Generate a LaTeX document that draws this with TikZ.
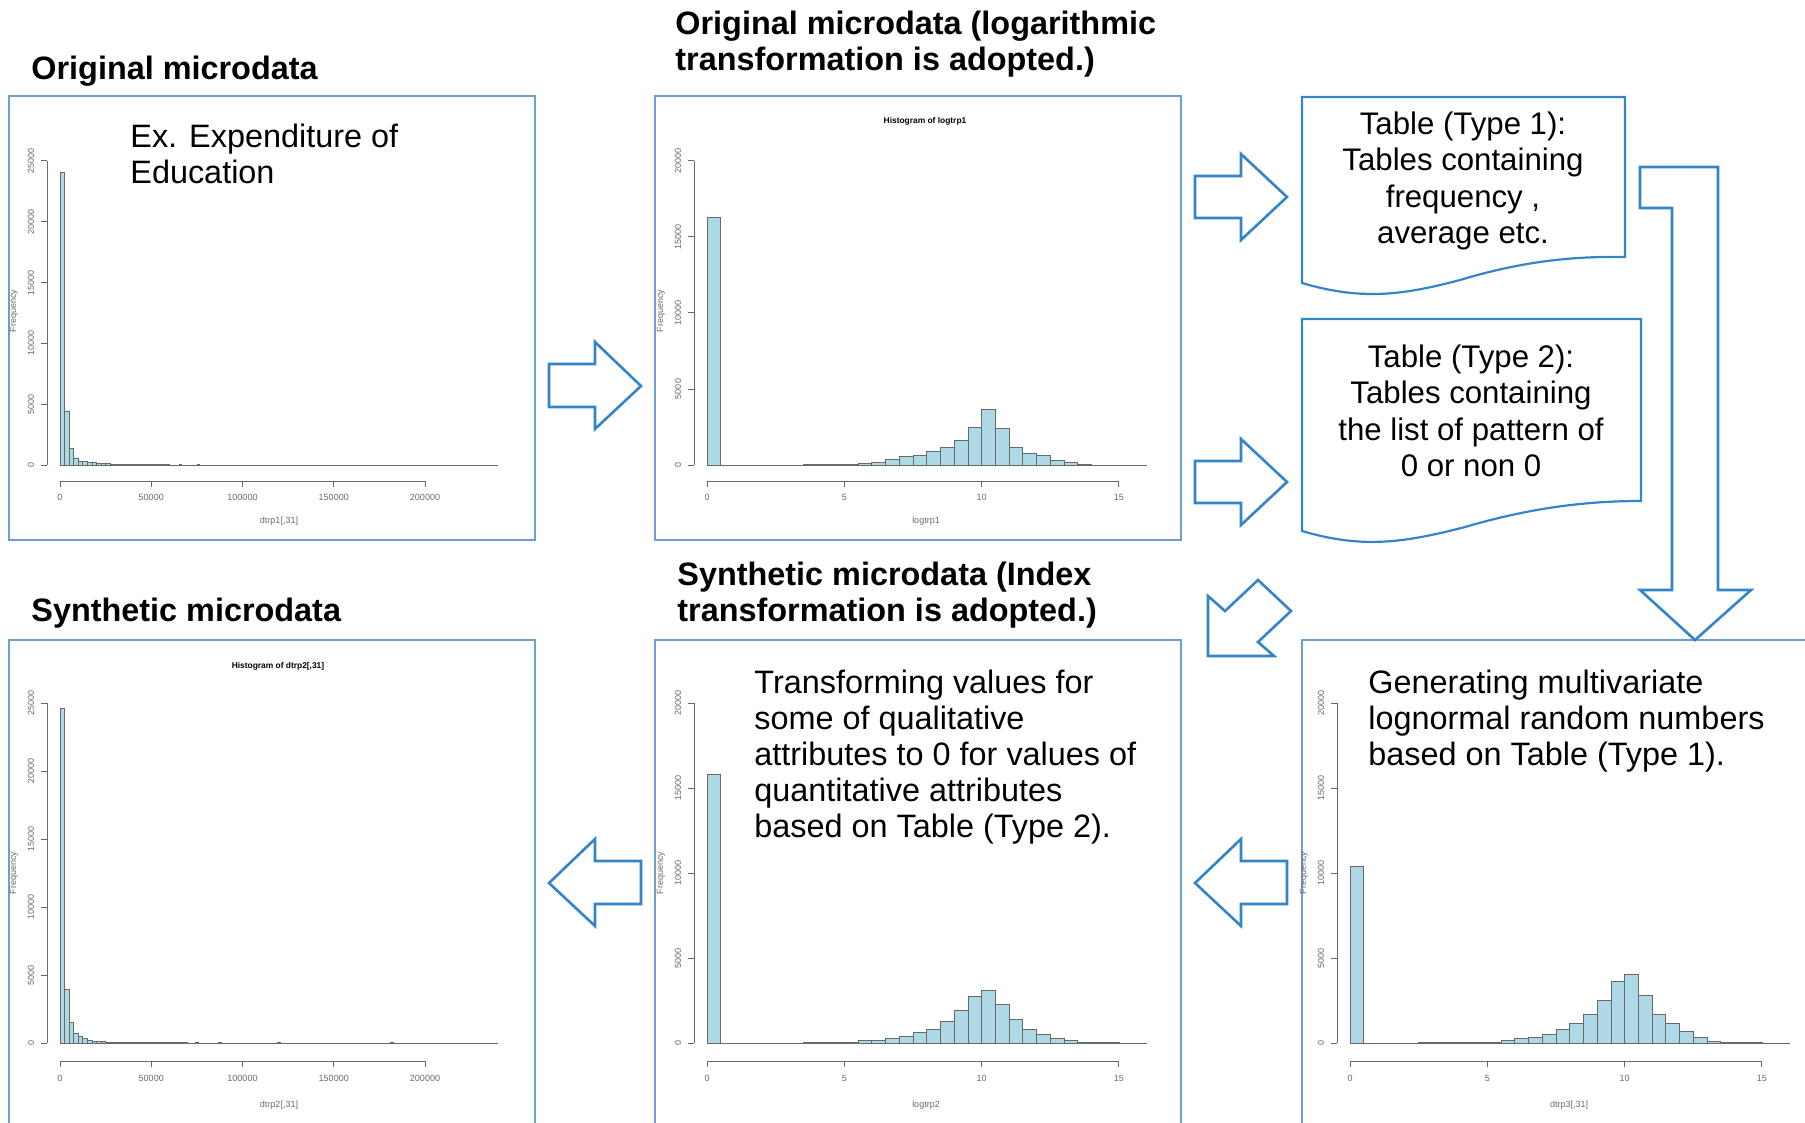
\documentclass[tikz,border=0pt]{standalone}
\usepackage{fontspec}
\setmainfont{Liberation Sans}
\usepackage{tikz}
\usetikzlibrary{positioning}
\definecolor{frameblue}{RGB}{112,156,212}
\definecolor{arrowblue}{RGB}{52,132,202}
\definecolor{barblue}{RGB}{173,216,230}
\definecolor{axisgray}{RGB}{105,105,105}

\begin{document}
\begin{tikzpicture}[x=0.5pt,y=-0.5pt,
  panel/.style={draw=frameblue,line width=1.2pt},
  blockarrow/.style={draw=arrowblue,line width=1.3pt,line join=miter,fill=white},
  doc/.style={draw=arrowblue,line width=1.1pt},
  heading/.style={anchor=north west,inner sep=0pt,align=left,font=\fontsize{16.2}{18}\selectfont\bfseries},
  note/.style={anchor=north west,inner sep=0pt,align=left,font=\fontsize{16.2}{18}\selectfont},
  tabtext/.style={anchor=north,inner sep=0pt,align=center,font=\fontsize{15.6}{18.3}\selectfont},
  bar/.style={fill=barblue,draw=axisgray,line width=0.35pt},
  axisline/.style={draw=axisgray,line width=0.5pt},
  ticklab/.style={text=axisgray,inner sep=0pt,font=\fontsize{4.5}{5}\selectfont},
  histtitle/.style={inner sep=0pt,font=\fontsize{4.2}{5}\selectfont\bfseries},
  ]
\useasboundingbox (0,0) rectangle (1805,1123);

% headings
\node[heading] (titleorig) at (31,56) {Original microdata};
\node[heading] (titlelog) at (675,11) {Original microdata (logarithmic\\transformation is adopted.)};
\node[heading] (titleidx) at (677,562) {Synthetic microdata (Index\\transformation is adopted.)};
\node[heading] (titlesyn) at (31,598) {Synthetic microdata};

% frames
\draw[panel] (9,96) rectangle (535,540);
\draw[panel] (655,96) rectangle (1181,540);
\draw[panel] (9,640) rectangle (535,1140);
\draw[panel] (655,640) rectangle (1181,1140);
\draw[panel] (1302,640) rectangle (1840,1140);

% original data
\begin{scope}[shift={(60,465)}]
\foreach \c [count=\i from 0] in {241,44.3,13.7,5.5,2.7,2.7,2.5,1.8,1.5,1.2,1.0,0.8,0.6,0.5}
  \draw[bar] (\i*4.5625,0) rectangle ++(4.5625,-\c*1.216);
\draw[axisline] (0,0) -- (438,0);
\draw[axisline,line width=1pt] (63.9,0) -- (110,0) (119,0) -- (122,0) (137,0) -- (140,0);
\draw[axisline] (-13,0) -- (-13,-304);
\foreach \k/\v in {0/0,1/5000,2/10000,3/15000,4/20000,5/25000}{
  \draw[axisline] (-13,-\k*60.8) -- (-19,-\k*60.8);
  \node[ticklab,rotate=90] at (-29,-\k*60.8) {\v};}
\draw[axisline] (0,16) -- (365,16);
\foreach \k/\v in {0/0,1/50000,2/100000,3/150000,4/200000}{
  \draw[axisline] (\k*91.25,16) -- (\k*91.25,22);
  \node[ticklab] at (\k*91.25,32) {\v};}
\node[ticklab,rotate=90] (freqa) at (-46,-154) {Frequency};
\node[ticklab] (xlaba) at (219,56) {dtrp1[,31]};
\end{scope}
\node[note] (expnote) at (130,124) {Ex. Expenditure of\\Education};

% log data
\begin{scope}[shift={(707,465)}]
\draw[bar] (0,0) rectangle ++(13.73,-163*1.52);
\foreach \b/\c in {7/0.3,8/0.3,9/0.3,10/0.3,11/1.0,12/2.0,13/3.7,14/5.4,15/6.5,16/9.0,17/11.3,18/16.3,19/25,20/36.4,21/24,22/11.3,23/7.6,24/6.5,25/3.3,26/1.5,27/0.6}
  \draw[bar] (\b*13.73,0) rectangle ++(13.73,-\c*1.52);
\draw[axisline] (0,0) -- (439.5,0);
\draw[axisline] (-13,0) -- (-13,-304);
\foreach \k/\v in {0/0,1/5000,2/10000,3/15000,4/20000}{
  \draw[axisline] (-13,-\k*76) -- (-19,-\k*76);
  \node[ticklab,rotate=90] at (-29,-\k*76) {\v};}
\draw[axisline] (0,16) -- (412,16);
\foreach \k/\v in {0/0,1/5,2/10,3/15}{
  \draw[axisline] (\k*137.3,16) -- (\k*137.3,22);
  \node[ticklab] at (\k*137.3,32) {\v};}
\node[histtitle] (histb) at (218,-344) {Histogram of logtrp1};
\node[ticklab,rotate=90] (freqb) at (-46,-154) {Frequency};
\node[ticklab] (xlabb) at (219,56) {logtrp1};
\end{scope}

% synthetic data
\begin{scope}[shift={(60,1043)}]
\foreach \c [count=\i from 0] in {246,39.7,14.9,7.4,5.0,3.2,2.0,1.5,1.2,1.0,0.8,0.6,0.5,0.4}
  \draw[bar] (\i*4.5625,0) rectangle ++(4.5625,-\c*1.36);
\draw[axisline] (0,0) -- (438,0);
\draw[axisline,line width=1pt] (63.9,0) -- (128,0) (135,0) -- (139,0) (158,0) -- (162,0) (217,0) -- (221,0) (330,0) -- (334,0);
\draw[axisline] (-13,0) -- (-13,-340);
\foreach \k/\v in {0/0,1/5000,2/10000,3/15000,4/20000,5/25000}{
  \draw[axisline] (-13,-\k*68) -- (-19,-\k*68);
  \node[ticklab,rotate=90] at (-29,-\k*68) {\v};}
\draw[axisline] (0,18) -- (365,18);
\foreach \k/\v in {0/0,1/50000,2/100000,3/150000,4/200000}{
  \draw[axisline] (\k*91.25,18) -- (\k*91.25,24);
  \node[ticklab] at (\k*91.25,35) {\v};}
\node[histtitle] (histc) at (218,-377) {Histogram of dtrp2[,31]};
\node[ticklab,rotate=90] (freqc) at (-46,-170) {Frequency};
\node[ticklab] (xlabc) at (219,62) {dtrp2[,31]};
\end{scope}

% index data
\begin{scope}[shift={(707,1043)}]
\draw[bar] (0,0) rectangle ++(13.73,-158*1.7);
\foreach \b/\c in {7/0.3,8/0.3,9/0.3,10/0.3,11/1.4,12/1.4,13/3.0,14/4.0,15/6.0,16/8.3,17/12.9,18/19.4,19/27.2,20/30.8,21/22.8,22/13.9,23/8.3,24/5.0,25/2.6,26/1.4,27/0.3,28/0.3,29/0.3}
  \draw[bar] (\b*13.73,0) rectangle ++(13.73,-\c*1.7);
\draw[axisline] (0,0) -- (439.5,0);
\draw[axisline] (-13,0) -- (-13,-340);
\foreach \k/\v in {0/0,1/5000,2/10000,3/15000,4/20000}{
  \draw[axisline] (-13,-\k*85) -- (-19,-\k*85);
  \node[ticklab,rotate=90] at (-29,-\k*85) {\v};}
\draw[axisline] (0,18) -- (412,18);
\foreach \k/\v in {0/0,1/5,2/10,3/15}{
  \draw[axisline] (\k*137.3,18) -- (\k*137.3,24);
  \node[ticklab] at (\k*137.3,35) {\v};}
\node[ticklab,rotate=90] (freqd) at (-46,-170) {Frequency};
\node[ticklab] (xlabd) at (219,62) {logtrp2};
\end{scope}
\node[note] (transnote) at (754,670) {Transforming values for\\some of qualitative\\attributes to 0 for values of\\quantitative attributes\\based on Table (Type 2).};

% lognormal data
\begin{scope}[shift={(1350,1043)}]
\draw[bar] (0,0) rectangle ++(13.73,-104*1.7);
\foreach \b/\c in {5/0.3,6/0.3,7/0.3,8/0.3,9/0.3,10/0.3,11/1.5,12/2.8,13/3.6,14/5.3,15/8.3,16/11.7,17/17.1,18/25,19/36.3,20/40.6,21/28.2,22/17.1,23/11.7,24/7.0,25/3.2,26/1.1,27/0.3,28/0.3,29/0.3}
  \draw[bar] (\b*13.73,0) rectangle ++(13.73,-\c*1.7);
\draw[axisline] (0,0) -- (439.5,0);
\draw[axisline] (-13,0) -- (-13,-340);
\foreach \k/\v in {0/0,1/5000,2/10000,3/15000,4/20000}{
  \draw[axisline] (-13,-\k*85) -- (-19,-\k*85);
  \node[ticklab,rotate=90] at (-29,-\k*85) {\v};}
\draw[axisline] (0,18) -- (412,18);
\foreach \k/\v in {0/0,1/5,2/10,3/15}{
  \draw[axisline] (\k*137.3,18) -- (\k*137.3,24);
  \node[ticklab] at (\k*137.3,35) {\v};}
\node[ticklab,rotate=90] (freqe) at (-46,-170) {Frequency};
\node[ticklab] (xlabe) at (219,62) {dtrp3[,31]};
\end{scope}
\node[note] (gennote) at (1368,670) {Generating multivariate\\lognormal random numbers\\based on Table (Type 1).};

% tables
\draw[doc] (1302,97) -- (1625,97) -- (1625,257) .. controls (1570,256) and (1520,262) .. (1460,280) .. controls (1400,296) and (1360,300) .. (1302,283) -- cycle;
\draw[doc] (1302,319) -- (1641,319) -- (1641,501) .. controls (1585,501) and (1530,508) .. (1465,527) .. controls (1400,544) and (1360,548) .. (1302,531) -- cycle;
\node[tabtext] (typeone) at (1463,111) {Table (Type 1):\\Tables containing\\frequency ,\\average etc.};
\node[tabtext] (typetwo) at (1471,344) {Table (Type 2):\\Tables containing\\the list of pattern of\\0 or non 0};

% block arrows
\draw[blockarrow] (549,364) -- ++(46,0) -- ++(0,-22) -- ++(46,44) -- ++(-46,43) -- ++(0,-22) -- ++(-46,0) -- cycle;
\draw[blockarrow] (1195,176) -- ++(46,0) -- ++(0,-22) -- ++(46,43) -- ++(-46,43) -- ++(0,-22) -- ++(-46,0) -- cycle;
\draw[blockarrow] (1195,461) -- ++(46,0) -- ++(0,-22) -- ++(46,43) -- ++(-46,43) -- ++(0,-22) -- ++(-46,0) -- cycle;
\draw[blockarrow] (1287,861) -- ++(-46,0) -- ++(0,-22) -- ++(-46,44) -- ++(46,43) -- ++(0,-22) -- ++(46,0) -- cycle;
\draw[blockarrow] (641,861) -- ++(-46,0) -- ++(0,-22) -- ++(-46,44) -- ++(46,43) -- ++(0,-22) -- ++(46,0) -- cycle;
\draw[blockarrow] (1640,167) -- (1718,167) -- (1718,590) -- (1751,590) -- (1695,640) -- (1640,590) -- (1672,590) -- (1672,208) -- (1640,208) -- cycle;
\draw[blockarrow] (1208,596) -- (1225,611) -- (1258,580) -- (1291,611) -- (1258,642) -- (1274,656) -- (1208,656) -- cycle;
\end{tikzpicture}
\end{document}
